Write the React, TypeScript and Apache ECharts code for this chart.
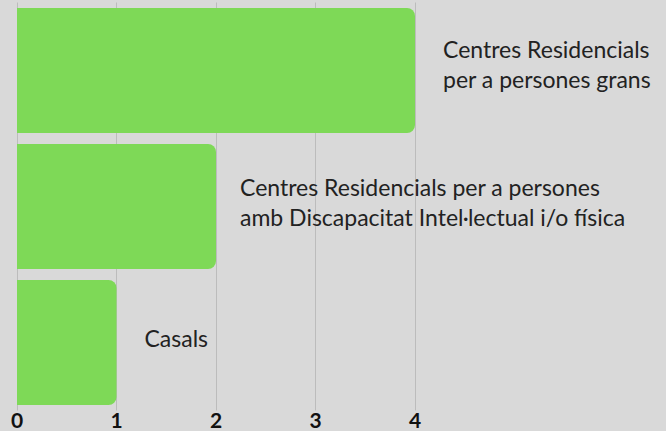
import React, { useEffect, useRef } from "react";
import * as echarts from "echarts";

const categories: string[] = [
  "Centres Residencials\nper a persones grans",
  "Centres Residencials per a persones\namb Discapacitat Intel·lectual i/o física",
  "Casals",
];
const values: number[] = [4, 2, 1];
const xTicks: number[] = [0, 1, 2, 3, 4];

export default function App() {
  const ref = useRef<HTMLDivElement>(null);
  useEffect(() => {
    if (!ref.current) return;
    const chart = echarts.init(ref.current, null, { renderer: "svg" });
    const labelTweaks = [
      { distance: 28, offset: [0, -7] },
      { distance: 24, offset: [0, -5] },
      { distance: 28, offset: [0, -5] },
    ];
    chart.setOption({
      animation: false,
      backgroundColor: "#d9d9d9",
      grid: { left: 17, right: 251, top: 2.5, bottom: 20.5, containLabel: false },
      xAxis: {
        type: "value",
        min: xTicks[0],
        max: xTicks[xTicks.length - 1],
        interval: 1,
        axisLine: { show: false },
        axisTick: { show: false },
        splitLine: { show: true, lineStyle: { color: "#bcbcbc", width: 1 } },
        axisLabel: {
          margin: -2,
          color: "#111111",
          fontFamily: "Lato",
          fontWeight: "bold",
          fontSize: 21,
        },
      },
      yAxis: {
        type: "category",
        inverse: true,
        data: categories,
        axisLine: { show: false },
        axisTick: { show: false },
        axisLabel: { show: false },
        splitLine: { show: false },
      },
      series: [
        {
          type: "bar",
          data: values.map((v, i) => ({ value: v, label: labelTweaks[i] })),
          barCategoryGap: "8%",
          itemStyle: { color: "#7ed957", borderRadius: [0, 8, 8, 0] },
          label: {
            show: true,
            position: "right",
            distance: 27,
            offset: [0, -5],
            formatter: "{b}",
            color: "#222222",
            fontFamily: "Lato",
            fontSize: 23,
            lineHeight: 30,
            align: "left",
          },
        },
      ],
    });
    return () => chart.dispose();
  }, []);
  return (
    <div
      ref={ref}
      style={{ width: 666, height: 431, position: "absolute", left: 0, top: 0 }}
    />
  );
}
